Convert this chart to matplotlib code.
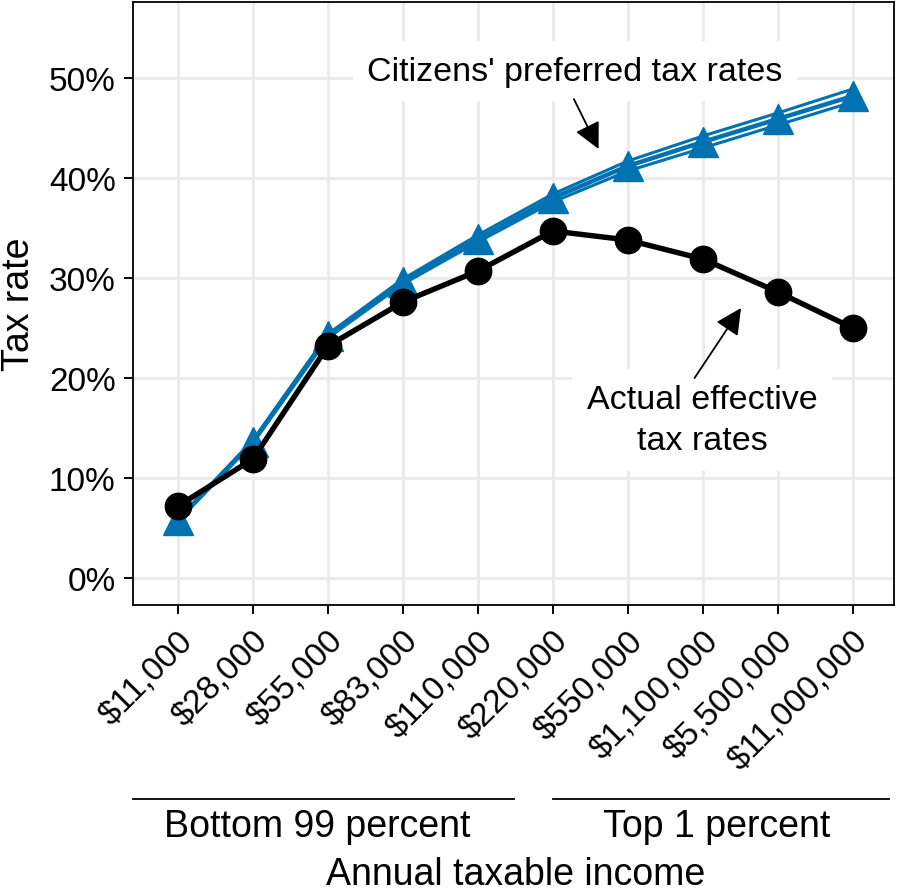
import numpy as np
import matplotlib
matplotlib.use('Agg')
import matplotlib.pyplot as plt
from matplotlib.lines import Line2D
from matplotlib.ticker import FuncFormatter

plt.rcParams['font.family'] = ['Liberation Sans', 'DejaVu Sans']

# data (tax rate in percent)
incomes = ['$11,000', '$28,000', '$55,000', '$83,000', '$110,000',
           '$220,000', '$550,000', '$1,100,000', '$5,500,000', '$11,000,000']
actual = [7.2, 11.9, 23.2, 27.6, 30.7, 34.7, 33.8, 31.9, 28.6, 25.0]
preferred = [5.8, 13.6, 24.2, 29.6, 33.9, 38.0, 41.2, 43.6, 45.9, 48.2]
preferred_hi = [5.9, 13.8, 24.4, 29.9, 34.3, 38.4, 41.7, 44.2, 46.5, 48.9]
preferred_lo = [5.7, 13.5, 24.0, 29.4, 33.6, 37.6, 40.7, 43.0, 45.3, 47.6]
yticks = [0, 10, 20, 30, 40, 50]

blue = '#0072b2'
W, H = 900, 895
fig = plt.figure(figsize=(W / 100, H / 100), dpi=100)
ax = fig.add_axes([133 / W, 1 - 606 / H, (894 - 133) / W, (606 - 3) / H])

x = np.arange(len(incomes))

# preferred rates: several close lines
ax.plot(x, preferred_hi, color=blue, lw=2.2, zorder=3)
ax.plot(x, preferred_lo, color=blue, lw=2.2, zorder=3)
ax.plot(x, preferred, color=blue, lw=3.2, marker='^', ms=21, zorder=3)
# actual effective rates
ax.plot(x, actual, color='black', lw=3.9, marker='o', ms=19, zorder=4)

ax.set_xlim(-0.6, 9.55)
ax.set_ylim(-2.7, 57.6)
ax.set_xticks(x)
ax.set_xticklabels(incomes, rotation=45, ha='right', va='top', rotation_mode='anchor')
ax.set_yticks(yticks)
ax.yaxis.set_major_formatter(FuncFormatter(lambda v, p: f'{v:.0f}%'))
ax.tick_params(labelsize=24, length=6.5, width=1.4, color='black', pad=6)
ax.tick_params(axis='x', pad=8)
for s in ax.spines.values():
    s.set_linewidth(1.3)
    s.set_color('black')
ax.grid(True, color='#ebebeb', lw=2.2)
ax.set_axisbelow(True)

# annotations with white label boxes
box = dict(boxstyle='square,pad=0.42', facecolor='white', edgecolor='none')
arrow = dict(arrowstyle='-|>', color='black', lw=1.3, mutation_scale=40, shrinkA=0, shrinkB=0)
ax.text(5.29, 50.7, "Citizens' preferred tax rates", fontsize=24.5, ha='center', va='center',
        bbox=box, zorder=5)
ax.annotate('', xy=(5.61, 42.9), xytext=(5.28, 47.9), arrowprops=arrow, zorder=5)
ax.text(6.99, 15.8, 'Actual effective\ntax rates', fontsize=24.5, ha='center', va='center',
        linespacing=1.45, bbox=box, zorder=5)
ax.annotate('', xy=(7.51, 27.0), xytext=(6.89, 20.0), arrowprops=arrow, zorder=5)

# axis titles and group brackets
fig.text(19 / W, 1 - 304 / H, 'Tax rate', fontsize=27, rotation=90, ha='center', va='center')
for x0, x1 in [(133, 514), (553, 889)]:
    fig.add_artist(Line2D([x0 / W, x1 / W], [1 - 800 / H, 1 - 800 / H], color='black', lw=1.3))
fig.text(317 / W, 1 - 827 / H, 'Bottom 99 percent', fontsize=27, ha='center', va='center')
fig.text(717 / W, 1 - 827 / H, 'Top 1 percent', fontsize=27, ha='center', va='center')
fig.text(516 / W, 1 - 885 / H, 'Annual taxable income', fontsize=27, ha='center', va='baseline')

fig.savefig('out.png', dpi=100)
